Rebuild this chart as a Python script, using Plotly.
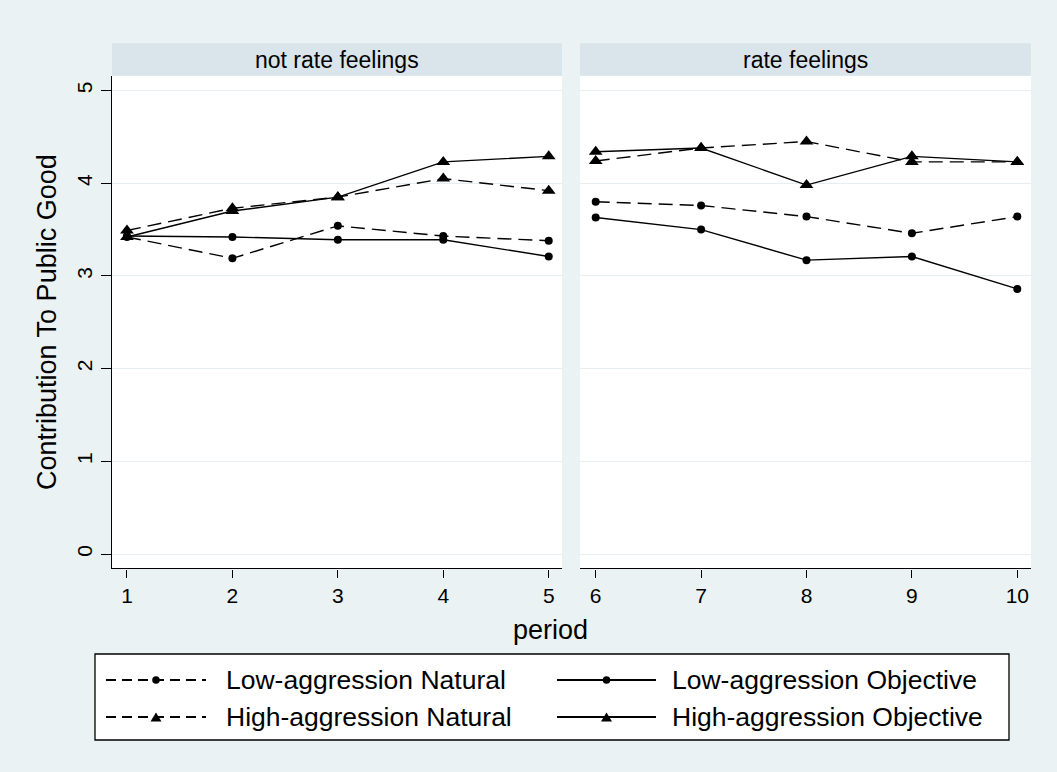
import plotly.graph_objects as go

# ---------------- data ----------------
periods_left = [1, 2, 3, 4, 5]
periods_right = [6, 7, 8, 9, 10]

low_natural_left = [3.42, 3.19, 3.54, 3.43, 3.38]
low_natural_right = [3.80, 3.76, 3.64, 3.46, 3.64]

low_objective_left = [3.43, 3.42, 3.39, 3.39, 3.21]
low_objective_right = [3.63, 3.50, 3.17, 3.21, 2.86]

high_natural_left = [3.49, 3.73, 3.85, 4.05, 3.92]
high_natural_right = [4.24, 4.38, 4.45, 4.23, 4.23]

high_objective_left = [3.42, 3.70, 3.85, 4.23, 4.29]
high_objective_right = [4.34, 4.38, 3.98, 4.29, 4.23]

series_names = ["Low-aggression Natural", "Low-aggression Objective",
                "High-aggression Natural", "High-aggression Objective"]
panel_titles = ["not rate feelings", "rate feelings"]
y_ticks = [0, 1, 2, 3, 4, 5]
y_title = "Contribution To Public Good"
x_title = "period"

# ---------------- style ----------------
W, H = 1057, 772
BG = "#EAF2F3"
STRIP = "#D9E5EB"
GRID = "#E6EEF1"
FONT = "Arial, Liberation Sans, sans-serif"
DASH = "14px,7px"
LW = 1.4

styles = {
    "Low-aggression Natural": dict(dash=DASH, symbol="circle", size=8),
    "Low-aggression Objective": dict(dash="solid", symbol="circle", size=8),
    "High-aggression Natural": dict(dash=DASH, symbol="triangle-up", size=12),
    "High-aggression Objective": dict(dash="solid", symbol="triangle-up", size=12),
}
data_left = dict(zip(series_names, [low_natural_left, low_objective_left,
                                    high_natural_left, high_objective_left]))
data_right = dict(zip(series_names, [low_natural_right, low_objective_right,
                                     high_natural_right, high_objective_right]))


def fx(px):
    return px / W


def fy(py):
    return 1 - py / H


fig = go.Figure()
for name in series_names:
    st = styles[name]
    for xs, ys, xa, ya in [(periods_left, data_left[name], "x", "y"),
                           (periods_right, data_right[name], "x2", "y2")]:
        fig.add_trace(go.Scatter(
            x=xs, y=ys, xaxis=xa, yaxis=ya, mode="lines+markers", name=name,
            showlegend=False,
            line=dict(color="black", width=LW, dash=st["dash"]),
            marker=dict(color="black", symbol=st["symbol"], size=st["size"],
                        line=dict(width=0)),
        ))

# panel geometry (pixels)
L1, R1, L2, R2 = 112, 562, 580, 1031
TOP, BOT = 75.7, 568.3
STRIP_TOP = 43.3

axis_common = dict(ticks="outside", tickcolor="black", tickwidth=1.2,
                   showgrid=False, zeroline=False, showline=True,
                   linecolor="black", linewidth=LW,
                   tickfont=dict(family=FONT, size=21, color="black"))

fig.update_layout(
    width=W, height=H, margin=dict(l=0, r=0, t=0, b=0),
    paper_bgcolor=BG, plot_bgcolor="white", showlegend=False,
    font=dict(family=FONT, color="black"),
    xaxis=dict(domain=[fx(L1), fx(R1)], range=[0.858, 5.126],
               tickvals=periods_left, ticklen=8, anchor="y", **axis_common),
    xaxis2=dict(domain=[fx(L2), fx(R2)], range=[5.851, 10.13],
                tickvals=periods_right, ticklen=8, anchor="y2", **axis_common),
    yaxis=dict(domain=[fy(BOT), fy(TOP)], range=[-0.154, 5.16], tickvals=y_ticks,
               ticks="outside", ticklen=10, tickcolor="black", tickwidth=1.2,
               tickangle=-90, showline=True, linecolor="black", linewidth=LW,
               showgrid=True, gridcolor=GRID, gridwidth=1.2, zeroline=False,
               tickfont=dict(family=FONT, size=21, color="black"), anchor="x"),
    yaxis2=dict(domain=[fy(BOT), fy(TOP)], range=[-0.154, 5.16], tickvals=y_ticks,
                ticks="", showticklabels=False, showline=False,
                showgrid=True, gridcolor=GRID, gridwidth=1.2, zeroline=False,
                anchor="x2", matches="y"),
)

shapes = []
annotations = []

# strips
for (l, r), title in zip([(L1, R1), (L2, R2)], panel_titles):
    shapes.append(dict(type="rect", xref="paper", yref="paper",
                       x0=fx(l), x1=fx(r), y0=fy(TOP), y1=fy(STRIP_TOP),
                       fillcolor=STRIP, line=dict(width=0), layer="below"))
    annotations.append(dict(text=title, xref="paper", yref="paper",
                            x=fx((l + r) / 2), y=fy((TOP + STRIP_TOP) / 2),
                            xanchor="center", yanchor="middle", showarrow=False,
                            font=dict(family=FONT, size=23, color="black")))

# axis titles
annotations.append(dict(text=y_title, xref="paper", yref="paper",
                        x=fx(47), y=fy((TOP + BOT) / 2), textangle=-90,
                        xanchor="center", yanchor="middle", showarrow=False,
                        font=dict(family=FONT, size=27, color="black")))
annotations.append(dict(text=x_title, xref="paper", yref="paper",
                        x=fx(550), y=fy(630), xanchor="center", yanchor="middle",
                        showarrow=False,
                        font=dict(family=FONT, size=27, color="black")))

# legend box
shapes.append(dict(type="rect", xref="paper", yref="paper",
                   x0=fx(95), x1=fx(1009), y0=fy(740), y1=fy(654),
                   fillcolor="white", line=dict(color="black", width=1.3)))

legend_pos = {
    "Low-aggression Natural": (106, 206, 224, 680),
    "Low-aggression Objective": (557, 656, 670, 680),
    "High-aggression Natural": (106, 206, 224, 717),
    "High-aggression Objective": (557, 656, 670, 717),
}
for name in series_names:
    x0, x1, tx, yy = legend_pos[name]
    st = styles[name]
    shapes.append(dict(type="line", xref="paper", yref="paper",
                       x0=fx(x0), x1=fx(x1), y0=fy(yy), y1=fy(yy),
                       line=dict(color="black", width=1.8,
                                 dash="10px,6px" if st["dash"] != "solid" else "solid")))
    cx = (x0 + x1) / 2
    if st["symbol"] == "circle":
        r = 3.8
        shapes.append(dict(type="circle", xref="paper", yref="paper",
                           x0=fx(cx - r), x1=fx(cx + r), y0=fy(yy + r), y1=fy(yy - r),
                           fillcolor="black", line=dict(width=0)))
    else:
        hw, ht = 5.5, 9
        path = (f"M {fx(cx - hw)} {fy(yy + ht / 2)} L {fx(cx + hw)} {fy(yy + ht / 2)} "
                f"L {fx(cx)} {fy(yy - ht / 2)} Z")
        shapes.append(dict(type="path", xref="paper", yref="paper", path=path,
                           fillcolor="black", line=dict(width=0)))
    annotations.append(dict(text=name, xref="paper", yref="paper",
                            x=fx(tx), y=fy(yy), xanchor="left", yanchor="middle",
                            showarrow=False,
                            font=dict(family=FONT, size=26.5, color="black")))

fig.update_layout(shapes=shapes, annotations=annotations)
fig.write_html("out.html", config={"displayModeBar": False},
               post_script="document.body.style.margin='0px';"
                           "document.body.style.overflow='hidden';")
